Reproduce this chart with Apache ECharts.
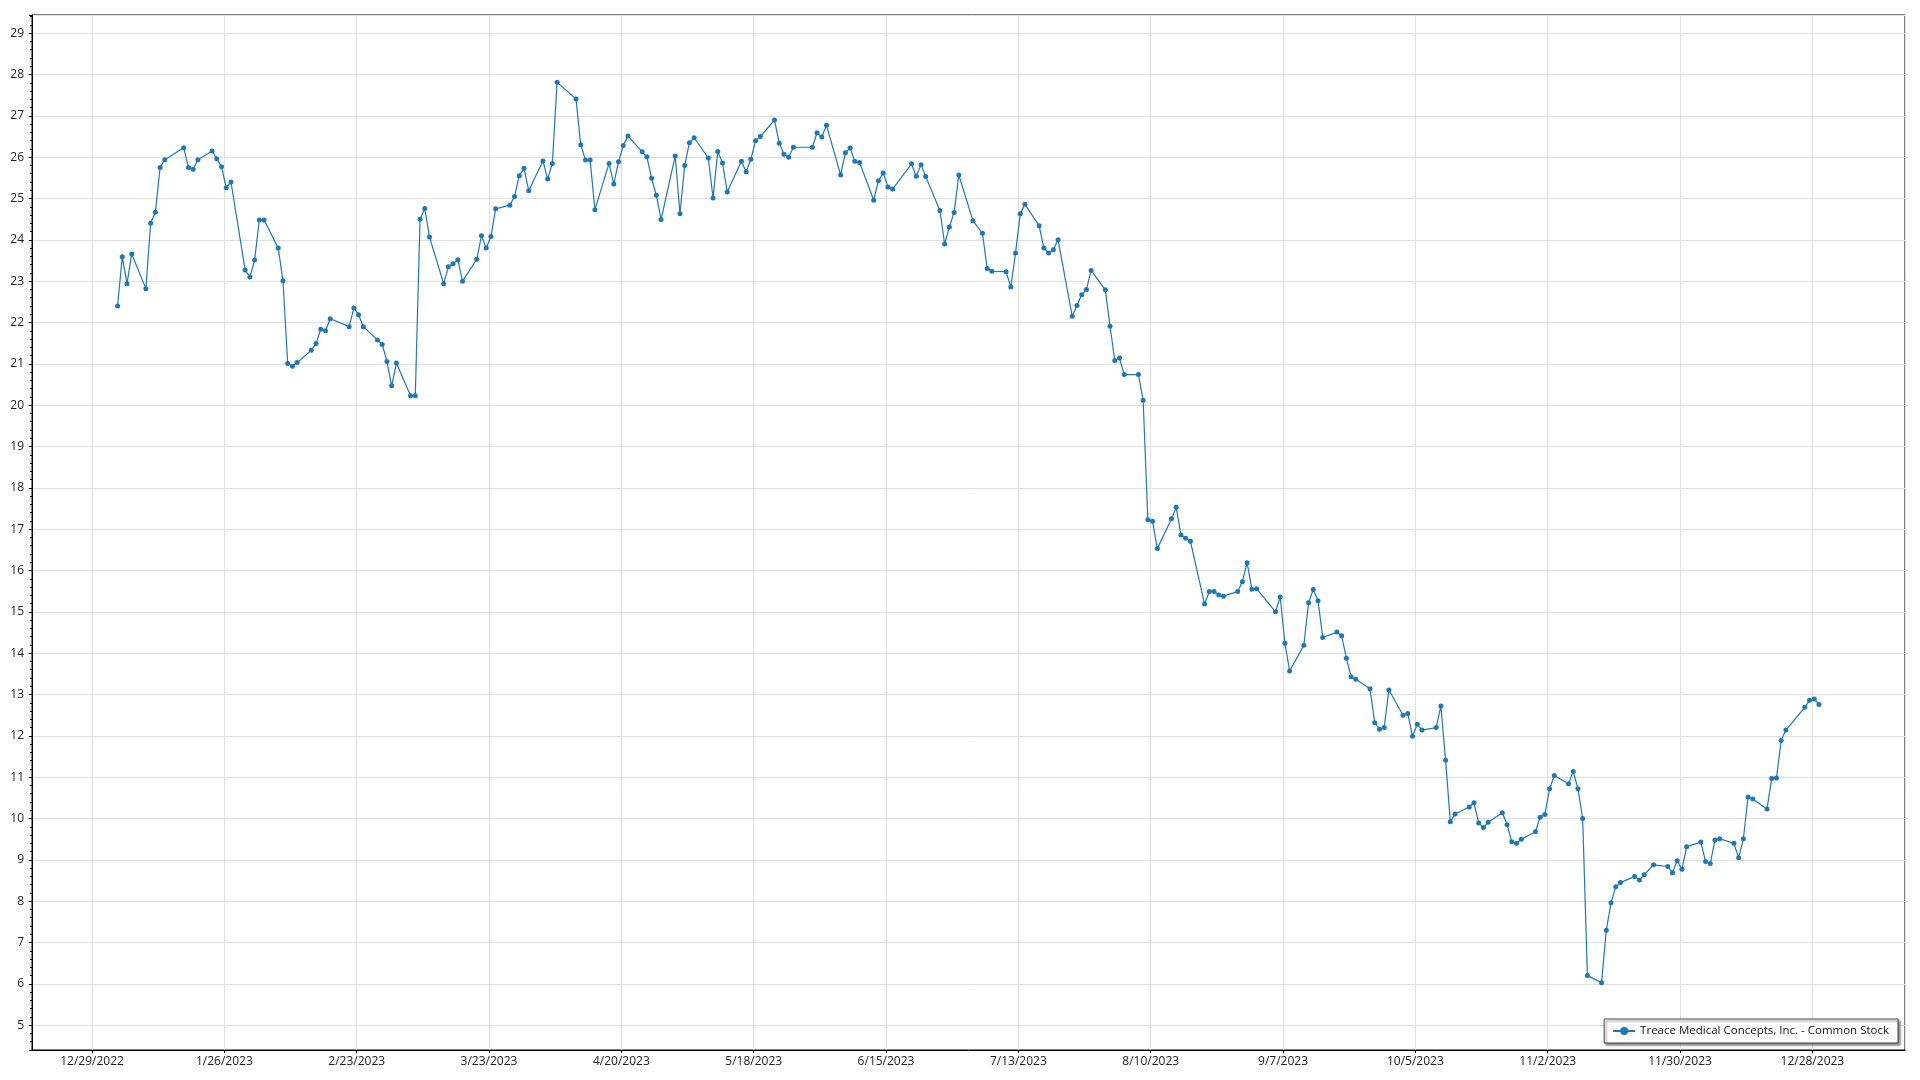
<!DOCTYPE html>
<html>
<head>
<meta charset="utf-8">
<script src="https://cdn.jsdelivr.net/npm/echarts@6/dist/echarts.min.js"></script>
<style>
  html, body { margin: 0; padding: 0; background: #fff; }
  #chart { width: 1920px; height: 1080px; }
</style>
</head>
<body>
<div id="chart"></div>
<script>
const seriesName = 'Treace Medical Concepts, Inc. - Common Stock';

const dates = [
  '2023-01-03','2023-01-04','2023-01-05','2023-01-06','2023-01-09','2023-01-10','2023-01-11','2023-01-12','2023-01-13','2023-01-17','2023-01-18','2023-01-19','2023-01-20','2023-01-23','2023-01-24','2023-01-25','2023-01-26','2023-01-27','2023-01-30','2023-01-31',
  '2023-02-01','2023-02-02','2023-02-03','2023-02-06','2023-02-07','2023-02-08','2023-02-09','2023-02-10','2023-02-13','2023-02-14','2023-02-15','2023-02-16','2023-02-17','2023-02-21','2023-02-22','2023-02-23','2023-02-24','2023-02-27','2023-02-28',
  '2023-03-01','2023-03-02','2023-03-03','2023-03-06','2023-03-07','2023-03-08','2023-03-09','2023-03-10','2023-03-13','2023-03-14','2023-03-15','2023-03-16','2023-03-17','2023-03-20','2023-03-21','2023-03-22','2023-03-23','2023-03-24','2023-03-27','2023-03-28','2023-03-29','2023-03-30','2023-03-31',
  '2023-04-03','2023-04-04','2023-04-05','2023-04-06','2023-04-10','2023-04-11','2023-04-12','2023-04-13','2023-04-14','2023-04-17','2023-04-18','2023-04-19','2023-04-20','2023-04-21','2023-04-24','2023-04-25','2023-04-26','2023-04-27','2023-04-28',
  '2023-05-01','2023-05-02','2023-05-03','2023-05-04','2023-05-05','2023-05-08','2023-05-09','2023-05-10','2023-05-11','2023-05-12','2023-05-15','2023-05-16','2023-05-17','2023-05-18','2023-05-19','2023-05-22','2023-05-23','2023-05-24','2023-05-25','2023-05-26','2023-05-30','2023-05-31',
  '2023-06-01','2023-06-02','2023-06-05','2023-06-06','2023-06-07','2023-06-08','2023-06-09','2023-06-12','2023-06-13','2023-06-14','2023-06-15','2023-06-16','2023-06-20','2023-06-21','2023-06-22','2023-06-23','2023-06-26','2023-06-27','2023-06-28','2023-06-29','2023-06-30',
  '2023-07-03','2023-07-05','2023-07-06','2023-07-07','2023-07-10','2023-07-11','2023-07-12','2023-07-13','2023-07-14','2023-07-17','2023-07-18','2023-07-19','2023-07-20','2023-07-21','2023-07-24','2023-07-25','2023-07-26','2023-07-27','2023-07-28','2023-07-31',
  '2023-08-01','2023-08-02','2023-08-03','2023-08-04','2023-08-07','2023-08-08','2023-08-09','2023-08-10','2023-08-11','2023-08-14','2023-08-15','2023-08-16','2023-08-17','2023-08-18','2023-08-21','2023-08-22','2023-08-23','2023-08-24','2023-08-25','2023-08-28','2023-08-29','2023-08-30','2023-08-31',
  '2023-09-01','2023-09-05','2023-09-06','2023-09-07','2023-09-08','2023-09-11','2023-09-12','2023-09-13','2023-09-14','2023-09-15','2023-09-18','2023-09-19','2023-09-20','2023-09-21','2023-09-22','2023-09-25','2023-09-26','2023-09-27','2023-09-28','2023-09-29',
  '2023-10-02','2023-10-03','2023-10-04','2023-10-05','2023-10-06','2023-10-09','2023-10-10','2023-10-11','2023-10-12','2023-10-13','2023-10-16','2023-10-17','2023-10-18','2023-10-19','2023-10-20','2023-10-23','2023-10-24','2023-10-25','2023-10-26','2023-10-27','2023-10-30','2023-10-31',
  '2023-11-01','2023-11-02','2023-11-03','2023-11-06','2023-11-07','2023-11-08','2023-11-09','2023-11-10','2023-11-13','2023-11-14','2023-11-15','2023-11-16','2023-11-17','2023-11-20','2023-11-21','2023-11-22','2023-11-24','2023-11-27','2023-11-28','2023-11-29','2023-11-30',
  '2023-12-01','2023-12-04','2023-12-05','2023-12-06','2023-12-07','2023-12-08','2023-12-11','2023-12-12','2023-12-13','2023-12-14','2023-12-15','2023-12-18','2023-12-19','2023-12-20','2023-12-21','2023-12-22','2023-12-26','2023-12-27','2023-12-28','2023-12-29'
];

const prices = [
  22.40,23.59,22.94,23.66,22.82,24.40,24.67,25.75,25.94,26.23,25.75,25.71,25.94,26.15,25.96,25.77,25.26,25.40,23.27,23.10,
  23.51,24.48,24.48,23.80,23.01,21.01,20.94,21.03,21.33,21.49,21.84,21.80,22.09,21.90,22.35,22.19,21.90,21.58,21.47,
  21.06,20.47,21.02,20.23,20.23,24.50,24.76,24.07,22.94,23.35,23.42,23.52,23.00,23.53,24.10,23.80,24.08,24.75,24.84,25.05,25.55,25.73,25.19,
  25.91,25.47,25.85,27.81,27.41,26.30,25.93,25.93,24.73,25.85,25.35,25.89,26.28,26.51,26.13,26.01,25.49,25.08,24.49,
  26.03,24.63,25.80,26.35,26.47,25.98,25.01,26.14,25.86,25.16,25.90,25.65,25.95,26.40,26.50,26.90,26.34,26.07,26.00,26.24,26.24,26.59,
  26.49,26.77,25.57,26.11,26.22,25.90,25.87,24.96,25.43,25.62,25.28,25.23,25.84,25.54,25.82,25.53,24.71,23.90,24.31,24.66,25.57,
  24.46,24.16,23.31,23.24,23.23,22.86,23.68,24.63,24.86,24.34,23.80,23.68,23.76,24.00,22.15,22.41,22.67,22.80,23.26,22.79,
  21.91,21.08,21.14,20.74,20.74,20.12,17.23,17.19,16.53,17.25,17.53,16.86,16.78,16.71,15.19,15.49,15.49,15.41,15.38,15.49,15.73,16.19,15.55,
  15.56,15.00,15.36,14.24,13.57,14.19,15.22,15.54,15.27,14.38,14.51,14.42,13.88,13.43,13.37,13.14,12.32,12.16,12.20,13.11,
  12.50,12.54,11.99,12.28,12.14,12.20,12.72,11.41,9.92,10.11,10.28,10.38,9.89,9.78,9.91,10.14,9.85,9.44,9.40,9.50,9.68,10.03,
  10.10,10.72,11.04,10.84,11.14,10.72,10.00,6.20,6.03,7.30,7.96,8.35,8.45,8.60,8.51,8.64,8.88,8.84,8.69,8.98,8.77,
  9.32,9.43,8.96,8.91,9.48,9.51,9.40,9.05,9.51,10.52,10.47,10.23,10.97,10.98,11.89,12.14,12.69,12.86,12.89,12.76
];

// X axis unit = one 28-day tick period, origin at the first tick (12/29/2022)
const baseDate = '2022-12-29';
const daysPerTick = 28;
const sampleTimeOfDay = 0.4;   // quotes are stamped during the trading day
const xMinTicks = -0.4536;
const xMaxTicks = 13.700;
const yMin = 4.4;
const yMax = 29.44;

const DAY = 86400000;
function toUTC(s) { const p = s.split('-').map(Number); return Date.UTC(p[0], p[1] - 1, p[2]); }
const base = toUTC(baseDate);
const seriesData = dates.map((d, i) => [((toUTC(d) - base) / DAY + sampleTimeOfDay) / daysPerTick, prices[i]]);

function isInt(v) { return Math.abs(v - Math.round(v)) < 1e-6; }

const FONT = '"Segoe UI", "Open Sans", "Noto Sans", sans-serif';
const chart = echarts.init(document.getElementById('chart'), null, { renderer: 'canvas' });
chart.setOption({
  animation: false,
  backgroundColor: '#ffffff',
  grid: {
    left: 32, right: 15, top: 15, bottom: 30,
    show: true, borderColor: '#000', borderWidth: 1, backgroundColor: 'transparent'
  },
  xAxis: {
    type: 'value',
    min: xMinTicks, max: xMaxTicks,
    splitNumber: 14, minInterval: 1, maxInterval: 1,
    axisLine: { show: true, onZero: false, lineStyle: { color: '#000', width: 1 } },
    axisTick: { show: true, length: 3, lineStyle: { color: '#000' } },
    axisLabel: {
      margin: 6, color: '#222', fontSize: 12, fontFamily: FONT,
      showMinLabel: false, showMaxLabel: false,
      formatter: function (v) {
        if (!isInt(v)) return '';
        const d = new Date(base + Math.round(v) * daysPerTick * DAY);
        return (d.getUTCMonth() + 1) + '/' + d.getUTCDate() + '/' + d.getUTCFullYear();
      }
    },
    splitLine: { show: true, lineStyle: { color: '#e0e0e0', width: 1 } }
  },
  yAxis: {
    type: 'value',
    min: yMin, max: yMax,
    splitNumber: 25, minInterval: 1, maxInterval: 1,
    axisLine: { show: true, onZero: false, lineStyle: { color: '#000', width: 1 } },
    axisTick: { show: true, length: 3, lineStyle: { color: '#000' } },
    minorTick: { show: true, splitNumber: 5, length: 2, lineStyle: { color: '#000' } },
    axisLabel: {
      margin: 8, color: '#222', fontSize: 12, fontFamily: FONT,
      showMinLabel: false, showMaxLabel: false,
      formatter: function (v) { return isInt(v) ? String(Math.round(v)) : ''; }
    },
    splitLine: { show: true, lineStyle: { color: '#e0e0e0', width: 1 } }
  },
  legend: {
    data: [seriesName],
    right: 22, bottom: 37,
    orient: 'horizontal',
    backgroundColor: '#fff',
    borderColor: '#444', borderWidth: 1,
    shadowColor: 'rgba(0,0,0,0.45)', shadowOffsetX: 2, shadowOffsetY: 2, shadowBlur: 2,
    padding: [6, 9, 6, 8],
    itemWidth: 22, itemHeight: 10, itemGap: 4,
    textStyle: { fontSize: 11.5, color: '#111', fontFamily: FONT }
  },
  series: [{
    name: seriesName,
    type: 'line',
    data: seriesData,
    symbol: 'circle',
    symbolSize: 5,
    showSymbol: true,
    lineStyle: { color: '#1f77b4', width: 1.2 },
    itemStyle: { color: '#1f77b4', borderWidth: 0 },
    emphasis: { disabled: true }
  }]
});
</script>
</body>
</html>
